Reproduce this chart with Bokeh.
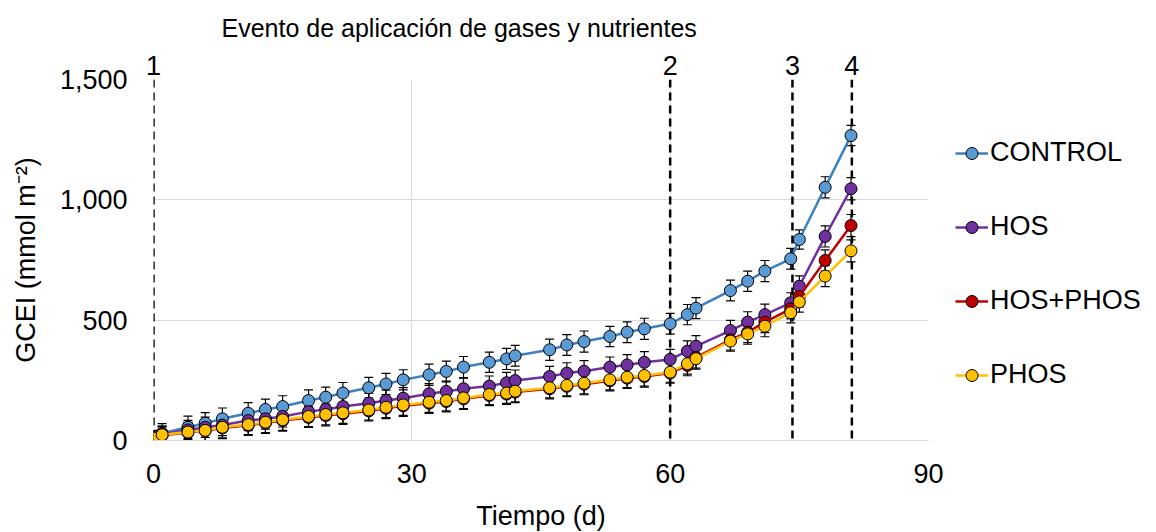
from bokeh.plotting import figure
from bokeh.models import (ColumnDataSource, Whisker, Span, Legend, LegendItem, LinearAxis,
                          FixedTicker, NumeralTickFormatter, Range1d, TeeHead)
from bokeh.embed import file_html
from bokeh.resources import INLINE

# ---------------- data ----------------
days = [0, 1, 4, 6, 8, 11, 13, 15, 18, 20, 22, 25, 27, 29, 32, 34, 36, 39, 41, 42,
        46, 48, 50, 53, 55, 57, 60, 62, 63, 67, 69, 71, 74, 75, 78, 81]

control = [12, 30, 55, 72, 90, 113, 129, 141, 166, 180, 197, 219, 235, 252, 273, 287, 305, 325, 339, 352,
           377, 397, 411, 432, 450, 464, 485, 523, 550, 623, 662, 704, 755, 835, 1052, 1267]
hos = [8, 25, 44, 55, 64, 83, 90, 100, 120, 129, 141, 155, 166, 176, 194, 204, 215, 226, 240, 249,
       266, 280, 288, 305, 314, 325, 337, 371, 392, 457, 492, 523, 572, 641, 848, 1046]
hos_phos = [5, 22, 33, 40, 52, 63, 73, 83, 96, 104, 111, 123, 134, 144, 155, 162, 173, 187, 193, 201,
            215, 225, 234, 248, 259, 266, 280, 312, 345, 418, 450, 492, 547, 598, 748, 893]
phos = [10, 24, 35, 42, 55, 66, 76, 86, 100, 108, 115, 127, 138, 148, 159, 166, 177, 191, 197, 205,
        219, 229, 238, 252, 263, 270, 284, 319, 340, 413, 443, 475, 531, 576, 683, 788]

control_err = [30, 40, 46, 44, 45, 44, 43, 45, 44, 42, 44, 43, 44, 42, 44, 43, 44, 42, 44, 43,
               44, 43, 44, 42, 43, 44, 43, 42, 44, 43, 42, 44, 43, 40, 44, 42]
hos_err = [25, 35, 40, 42, 44, 42, 43, 44, 42, 43, 44, 42, 43, 44, 42, 43, 44, 42, 43, 44,
           42, 43, 44, 42, 43, 44, 42, 43, 44, 42, 43, 44, 42, 43, 44, 46]
hos_phos_err = [25, 35, 40, 42, 44, 42, 43, 44, 42, 43, 44, 42, 43, 44, 42, 43, 44, 42, 43, 44,
                42, 43, 44, 42, 43, 44, 42, 43, 44, 42, 43, 44, 42, 43, 44, 46]
phos_err = [25, 35, 40, 42, 44, 42, 43, 44, 42, 43, 44, 42, 43, 44, 42, 43, 44, 42, 43, 44,
            42, 43, 44, 42, 43, 44, 42, 43, 44, 42, 43, 44, 42, 43, 44, 46]

series_names = ["CONTROL", "HOS", "HOS+PHOS", "PHOS"]
series_values = [control, hos, hos_phos, phos]
series_errors = [control_err, hos_err, hos_phos_err, phos_err]
line_colors = ["#3A80C3", "#7030A0", "#C00000", "#FFC000"]
fill_colors = ["#5B9BD5", "#7030A0", "#C00000", "#FFC000"]

events = [0, 60, 74.2, 81.1]
event_labels = ["1", "2", "3", "4"]

x_ticks = [0, 30, 60, 90]
y_ticks = [0, 500, 1000, 1500]

title_text = "Evento de aplicación de gases y nutrientes"
x_label = "Tiempo (d)"
y_label = "GCEI (mmol m⁻²)"

FONT = "Liberation Sans"

# ---------------- figure ----------------
p = figure(frame_width=775, frame_height=361, output_backend="svg", toolbar_location=None,
           x_range=Range1d(0, 90), y_range=Range1d(0, 1500),
           min_border_left=153, min_border_right=228, min_border_top=79, min_border_bottom=92)
p.outline_line_color = None
p.background_fill_color = "white"

xax = p.xaxis[0]
yax = p.yaxis[0]

# event-number axis on top
top_axis = LinearAxis(ticker=FixedTicker(ticks=events),
                      major_label_overrides={e: l for e, l in zip(events, event_labels)})
p.add_layout(top_axis, "above")

p.title.text = title_text
p.title.text_font = FONT
p.title.text_font_size = "25px"
p.title.text_font_style = "normal"
p.title.text_color = "black"
p.title.align = "left"
p.title.offset = 68
p.title.standoff = 21

for ax in (xax, yax, top_axis):
    ax.major_tick_line_color = None
    ax.minor_tick_line_color = None
    ax.major_tick_out = 0
    ax.minor_tick_out = 0
    ax.major_tick_in = 0
    ax.minor_tick_in = 0
    ax.major_label_text_font = FONT
    ax.major_label_text_font_size = "27px"
    ax.major_label_text_color = "black"
    ax.axis_label_text_font = FONT
    ax.axis_label_text_font_size = "27px"
    ax.axis_label_text_font_style = "normal"
    ax.axis_label_text_color = "black"

xax.ticker = FixedTicker(ticks=x_ticks)
yax.ticker = FixedTicker(ticks=y_ticks)
yax.formatter = NumeralTickFormatter(format="0,0")
xax.axis_label = x_label
yax.axis_label = y_label
xax.axis_line_color = "#D9D9D9"
xax.axis_line_width = 1
yax.axis_line_color = None
top_axis.axis_line_color = None
top_axis.major_label_standoff = 5
xax.major_label_standoff = 23
xax.axis_label_standoff = 15
yax.major_label_standoff = 26
yax.axis_label_standoff = 16

p.xgrid.grid_line_color = "#D9D9D9"
p.ygrid.grid_line_color = "#D9D9D9"
p.xgrid.ticker = FixedTicker(ticks=x_ticks)
p.xgrid.grid_line_width = 1
p.ygrid.grid_line_width = 1

# event lines
for ev in events:
    sp = Span(location=ev, dimension="height", line_color="black", line_width=2.5,
              line_dash="8 5", level="underlay")
    p.add_layout(sp)

legend_items = []
for name, vals, errs, lc, fc in zip(series_names, series_values, series_errors, line_colors, fill_colors):
    src = ColumnDataSource(dict(x=days, y=vals,
                                upper=[v + e for v, e in zip(vals, errs)],
                                lower=[v - e for v, e in zip(vals, errs)]))
    wh = Whisker(base="x", upper="upper", lower="lower", source=src, dimension="height",
                 line_color="black", line_width=1.2, level="underlay",
                 upper_head=TeeHead(size=9, line_color="black", line_width=1.2),
                 lower_head=TeeHead(size=9, line_color="black", line_width=1.2))
    p.add_layout(wh)
    lr = p.line("x", "y", source=src, line_color=lc, line_width=2.5)
    sr = p.scatter("x", "y", source=src, marker="circle", size=12, fill_color=fc,
                   line_color="black", line_width=1)
    legend_items.append(LegendItem(label=name, renderers=[lr, sr]))

legend = Legend(items=legend_items, location=(27, 50), orientation="vertical",
                label_text_font=FONT, label_text_font_size="27px", label_text_color="black",
                glyph_width=33, glyph_height=30, label_height=30, spacing=43,
                label_standoff=2, margin=0, padding=0,
                border_line_color=None, background_fill_alpha=0)
p.add_layout(legend, "right")

open("out.html", "w").write(file_html(p, INLINE))
